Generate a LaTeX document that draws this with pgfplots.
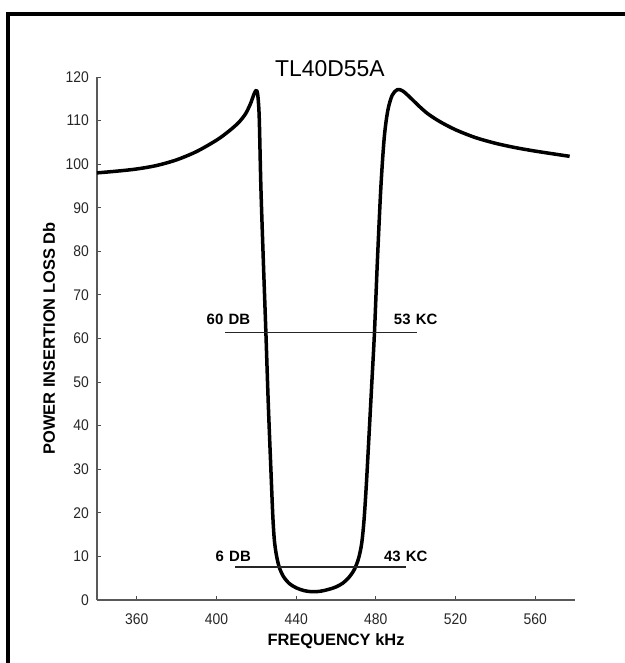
\documentclass[border=0pt]{standalone}
\usepackage{fontspec}
\setmainfont{Liberation Sans}
\newfontfamily\tickfont{Liberation Sans}[FakeStretch=0.9]
\usepackage{pgfplots}
\pgfplotsset{compat=1.18}
\begin{document}
\begin{tikzpicture}[x=1bp,y=1bp]
\path[use as bounding box] (0,0) rectangle (625,-663);
\draw[line width=3.5bp] (8,-663) -- (8,-14) -- (626,-14);
\begin{axis}[
  at={(97bp,-600bp)}, anchor=south west,
  scale only axis, width=478bp, height=523bp,
  xmin=340, xmax=580, ymin=0, ymax=120,
  axis lines*=left,
  xtick={360,400,...,560}, ytick={0,10,...,120},
  tick align=inside, major tick length=4bp,
  axis line style={line width=1.3bp, color=black!65},
  tick style={line width=1bp, color=black!70},
  /pgf/number format/assume math mode=true,
  ticklabel style={font=\tickfont\fontsize{15.5}{15.5}\selectfont, text=black!85},
  xticklabel style={inner sep=0pt, yshift=-14bp},
  yticklabel style={inner sep=0pt, xshift=-8bp},
  xlabel={FREQUENCY kHz},
  xlabel style={at={(axis description cs:0.5,0)}, anchor=center, yshift=-41bp,
    font=\bfseries\fontsize{16.5}{16.5}\selectfont},
  ylabel={POWER INSERTION LOSS Db},
  ylabel style={at={(axis description cs:-0.1004,0.5)}, anchor=center,
    font=\bfseries\fontsize{16.5}{16.5}\selectfont},
  title={TL40D55A},
  title style={at={(axis description cs:0.4874,1)}, anchor=center, yshift=2bp,
    font=\fontsize{23}{23}\selectfont},
  clip=false,
]
\addplot[line width=3.5bp, black, smooth, tension=0.5, line join=round] coordinates {
(340,98) (350,98.4) (360,98.9) (370,99.7) (380,101) (390,102.9) (400,105.5)
(406,107.5) (411,109.5) (414.5,111.5) (417,113.8) (418.6,115.8) (419.6,116.8)
(420.4,116.7) (421,114.5) (421.5,110) (422.3,94.5) (423.5,78) (424.8,61.3)
(426,45) (427.3,30) (428.3,19) (429.1,13.5) (430.2,10) (431.6,7.4) (433.6,5.4)
(436.5,3.8) (440,2.8) (444,2.15) (448,1.9) (452,2.0) (456,2.4) (460,3.0)
(463.5,3.9) (466.5,5.2) (469.2,7) (471.3,9.5) (472.9,13) (474.1,18.5)
(475.3,27) (476.6,38) (478,50) (479.3,61.3) (480.8,78) (482.5,94.5)
(484.2,106) (486,112.3) (488.2,115.8) (490.8,117.1) (493.5,116.8)
(497,115.4) (501.5,113.4) (506,111.6) (512,109.8) (520,107.9) (530,106.1)
(540,104.8) (550,103.8) (560,103) (570,102.3) (577.3,101.8)};
\addplot[line width=1.3bp, black!85] coordinates {(404.5,61.3) (500.5,61.3)};
\addplot[line width=1.3bp, black!85] coordinates {(409.5,7.6) (495,7.6)};
\node[anchor=west, inner sep=0pt, font=\bfseries\fontsize{15}{15}\selectfont] at (axis cs:395,64.3) {60\hspace{0.35em}DB};
\node[anchor=west, inner sep=0pt, font=\bfseries\fontsize{15}{15}\selectfont] at (axis cs:489,64.3) {53\hspace{0.35em}KC};
\node[anchor=west, inner sep=0pt, font=\bfseries\fontsize{15}{15}\selectfont] at (axis cs:399.5,10.1) {6\hspace{0.35em}DB};
\node[anchor=west, inner sep=0pt, font=\bfseries\fontsize{15}{15}\selectfont] at (axis cs:484,10.1) {43\hspace{0.35em}KC};
\end{axis}
\end{tikzpicture}
\end{document}
